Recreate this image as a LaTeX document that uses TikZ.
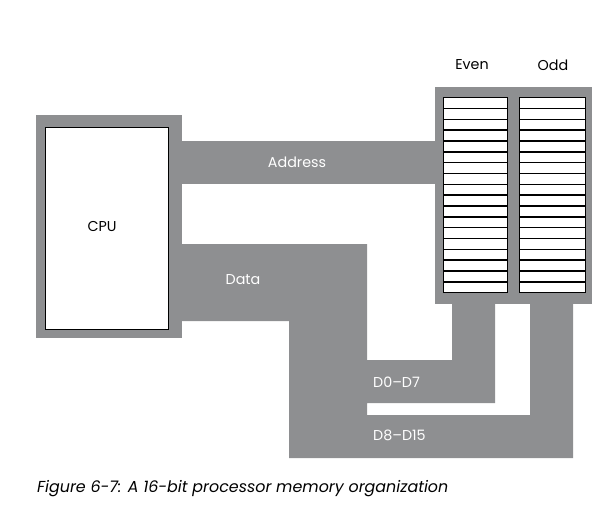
\documentclass[tikz,border=0pt]{standalone}
\usepackage{fontspec}
\setmainfont{Poppins}
\definecolor{bus}{RGB}{142,143,145}
\tikzset{
  busfill/.style={fill=bus},
  cell/.style={draw=black, fill=white, line width=1.4pt},
  buslabel/.style={text=white, font=\fontsize{14.3}{16}\selectfont, inner sep=0pt},
  blacklabel/.style={text=black, font=\fontsize{14.3}{16}\selectfont, inner sep=0pt}
}
\begin{document}
\begin{tikzpicture}[x=1pt,y=-1pt]
\useasboundingbox (0,0) rectangle (608,512);
% CPU
\fill[busfill] (36,115) rectangle (182,338);
\node[cell, minimum width=123pt, minimum height=202pt, anchor=north west] (cpu) at (45,127) {};
\node[blacklabel] (cpulabel) at (102,226) {CPU};
% Address bus
\fill[busfill] (182,141) rectangle (436,184);
\node[buslabel] (addr) at (297,162) {Address};
% Data bus
\fill[busfill] (182,244) -- (367,244) -- (367,360) -- (452,360) -- (452,303) -- (495,303)
  -- (495,403) -- (367,403) -- (367,415) -- (530,415) -- (530,303) -- (573,303)
  -- (573,458) -- (289,458) -- (289,321) -- (182,321) -- cycle;
\node[buslabel] (data) at (243,280) {Data};
\node[buslabel, anchor=west] (d07) at (373,382) {D0–D7};
\node[buslabel, anchor=west] (d815) at (373,435) {D8–D15};
% Memory
\fill[busfill] (435,87) rectangle (592,304);
\foreach \i in {0,...,17} {
  \node[cell, minimum width=64pt, minimum height=10.83pt, anchor=north west, inner sep=0pt] (even\i) at (443,{97+\i*10.83}) {};
  \node[cell, minimum width=66pt, minimum height=10.83pt, anchor=north west, inner sep=0pt] (odd\i) at (519,{97+\i*10.83}) {};
}
\node[blacklabel] (evenlabel) at (472,65) {Even};
\node[blacklabel] (oddlabel) at (553,65) {Odd};
% Caption
\node[anchor=west, inner sep=0pt, font=\fontsize{15.9}{18}\selectfont\itshape] (caption) at (37,489) {Figure 6-7: A 16-bit processor memory organization};
\end{tikzpicture}
\end{document}
